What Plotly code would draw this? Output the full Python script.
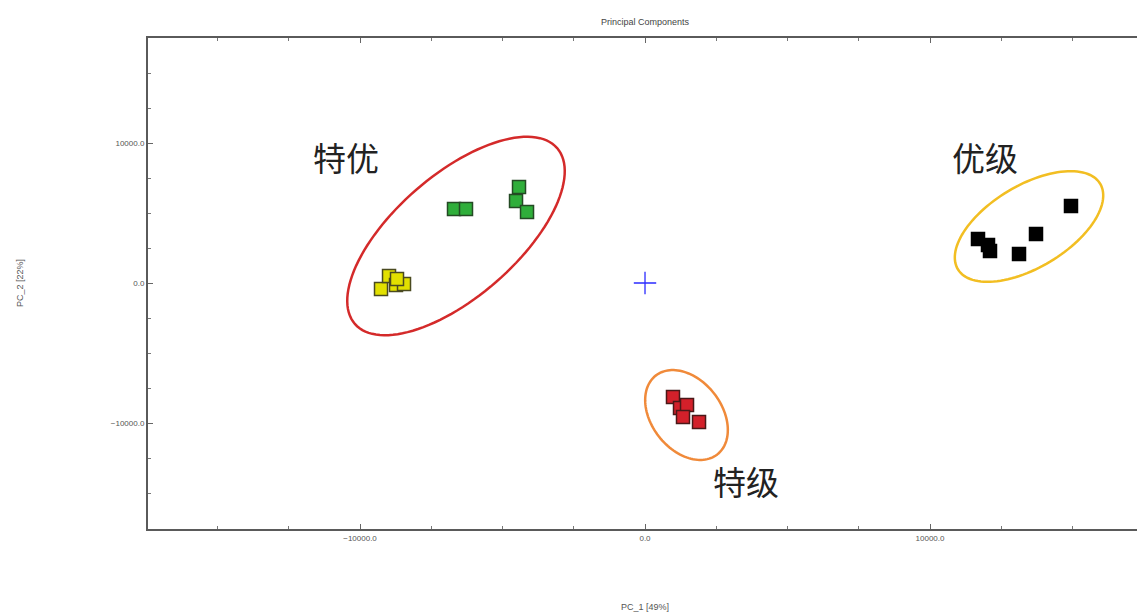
import numpy as np
import plotly.graph_objects as go

# ---------------- data ----------------
yellow_x = [-9263, -8982, -8737, -8456, -8702]
yellow_y = [-429, 500, -143, -71, 286]
green_x = [-6702, -6281, -4421, -4526, -4140]
green_y = [5286, 5286, 6857, 5857, 5071]
black_x = [11684, 12035, 12105, 13123, 13719, 14947]
black_y = [3143, 2714, 2286, 2071, 3500, 5500]
red_x = [982, 1228, 1474, 1333, 1895]
red_y = [-8143, -8929, -8714, -9571, -9929]

group_labels = ["特优", "优级", "特级"]
label_x = [-10491, 11930, 3544]
label_y = [9000, 9000, -14143]

# ellipse: centre (data), semi axes (px), angle (deg, screen, counter-clockwise up)
ell_cx = [-6632, 13474, 1456]
ell_cy = [3357, 4036, -9429]
ell_a = [134, 83, 50]
ell_b = [61, 41, 35]
ell_ang = [41, 31, -52]
ell_col = ["#d42a2a", "#f2be22", "#f08a3a"]

x_range = [-17439, 17263]
y_range = [-17571, 17500]

W, H = 1137, 616
ml, mr, mt, mb = 148, 0, 38, 87
pw, ph = W - ml - mr, H - mt - mb
sx = pw / (x_range[1] - x_range[0])
sy = ph / (y_range[1] - y_range[0])

fig = go.Figure()

def sq(x, y, fill, line):
    fig.add_trace(go.Scatter(x=x, y=y, mode="markers", showlegend=False,
                             marker=dict(symbol="square", size=13, color=fill,
                                         line=dict(color=line, width=1.5))))

sq(yellow_x, yellow_y, "#e2e000", "#4a4a20")
sq(green_x, green_y, "#2fae3a", "#244a24")
sq(red_x, red_y, "#d3202a", "#4a1818")
sq(black_x, black_y, "#000000", "#000000")

fig.add_trace(go.Scatter(x=[0], y=[0], mode="markers", showlegend=False,
                         marker=dict(symbol="cross-thin", size=16,
                                     line=dict(color="#2b2bff", width=1.3))))

t = np.linspace(0, 2 * np.pi, 121)
for cx, cy, a, b, ang, col in zip(ell_cx, ell_cy, ell_a, ell_b, ell_ang, ell_col):
    th = np.deg2rad(ang)
    px = a * np.cos(t) * np.cos(th) - b * np.sin(t) * np.sin(th)
    py = a * np.cos(t) * np.sin(th) + b * np.sin(t) * np.cos(th)
    xs = cx + px / sx
    ys = cy + py / sy
    path = "M " + " L ".join(f"{x:.2f},{y:.2f}" for x, y in zip(xs, ys)) + " Z"
    fig.add_shape(type="path", path=path, xref="x", yref="y",
                  line=dict(color=col, width=2.5))

for txt, x, y in zip(group_labels, label_x, label_y):
    fig.add_annotation(x=x, y=y, text=txt, showarrow=False,
                       font=dict(family="Noto Sans CJK SC", size=33, color="#222222"))

axis_common = dict(showgrid=False, zeroline=False, showline=True, linecolor="#5a5a5a",
                   linewidth=2, ticks="inside", ticklen=5, tickcolor="#666666",
                   tickwidth=1, dtick=10000, tick0=0, tickformat=".1f",
                   tickfont=dict(family="Liberation Sans", size=8, color="#555555"),
                   minor=dict(ticks="inside", ticklen=3, dtick=2500, tickcolor="#777777"))

fig.update_xaxes(range=x_range, mirror="ticks", **axis_common)
fig.update_yaxes(range=y_range, **axis_common)

fig.add_annotation(x=0, y=(H - mb - 22) / ph, xref="x", yref="paper", yanchor="middle",
                   text="Principal Components", showarrow=False,
                   font=dict(family="Liberation Sans", size=9, color="#444444"))
fig.add_annotation(x=0, y=(H - 607 - mb) / ph, xref="x", yref="paper",
                   text="PC_1 [49%]", showarrow=False, yanchor="middle",
                   font=dict(family="Liberation Sans", size=9, color="#555555"))
fig.add_annotation(x=(20 - ml) / pw, y=0, xref="paper", yref="y", textangle=-90,
                   text="PC_2 [22%]", showarrow=False, xanchor="center",
                   font=dict(family="Liberation Sans", size=9, color="#555555"))

fig.update_layout(width=W, height=H, margin=dict(l=ml, r=mr, t=mt, b=mb),
                  plot_bgcolor="white", paper_bgcolor="white")

fig.write_html("out.html")
